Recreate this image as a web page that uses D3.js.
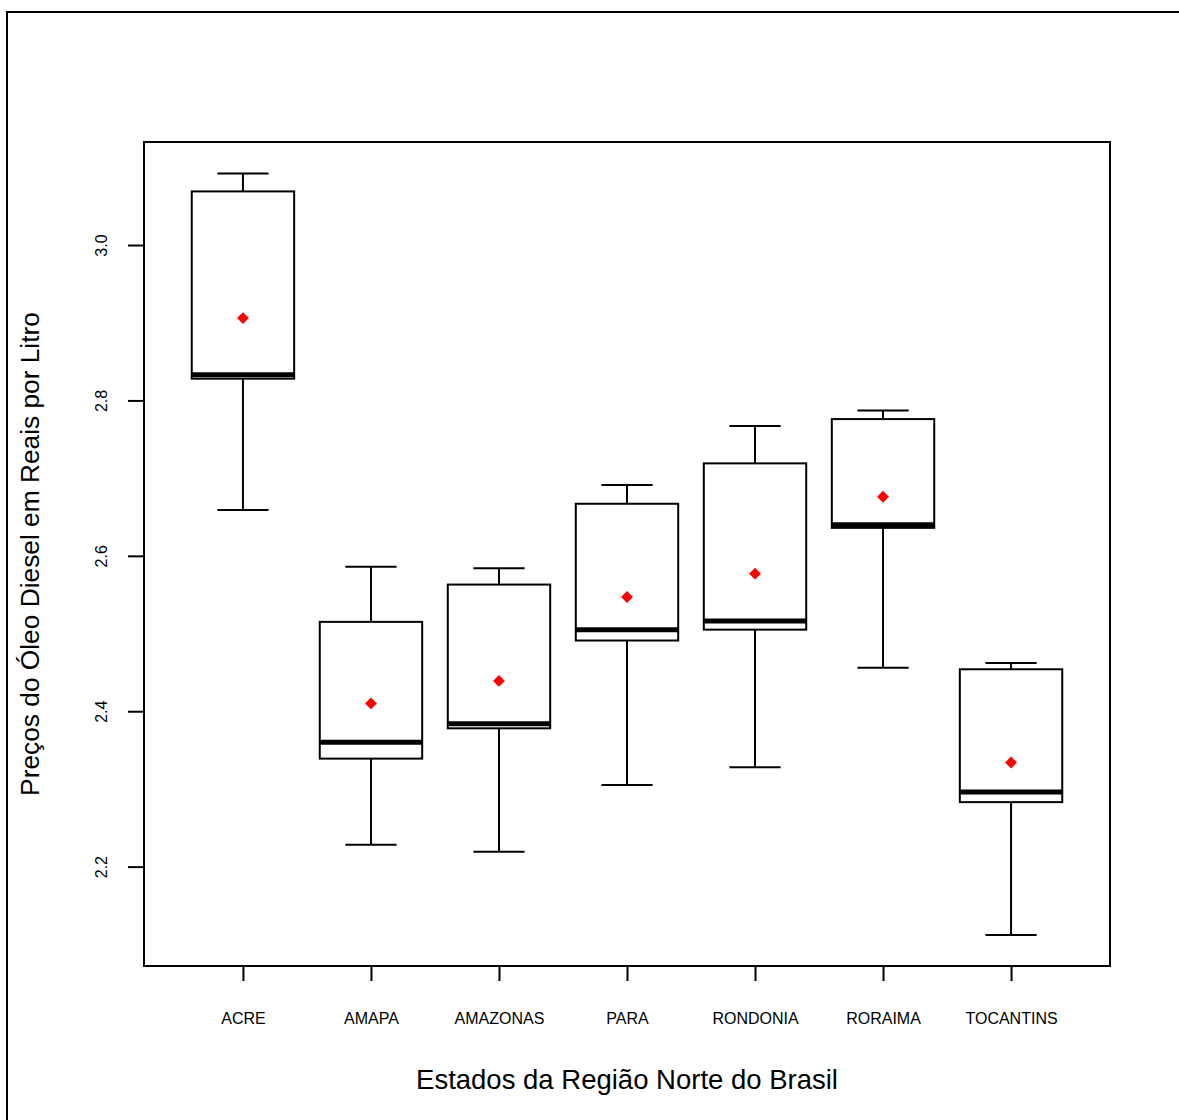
<!DOCTYPE html>
<html>
<head>
<meta charset="utf-8">
<script src="https://cdn.jsdelivr.net/npm/d3@7"></script>
<style>
  body { margin: 0; background: #fff; }
  svg { display: block; font-family: "Liberation Sans", Arial, sans-serif; }
</style>
</head>
<body>
<svg id="chart" width="1179" height="1120"></svg>
<script>
// boxplot stats
const states    = [ "ACRE", "AMAPA", "AMAZONAS", "PARA", "RONDONIA", "RORAIMA", "TOCANTINS" ];
const whiskLow  = [ 2.659, 2.228, 2.219, 2.305, 2.328, 2.456, 2.112 ];
const q1        = [ 2.828, 2.339, 2.378, 2.491, 2.505, 2.636, 2.283 ];
const medians   = [ 2.833, 2.360, 2.384, 2.505, 2.516, 2.640, 2.296 ];
const q3        = [ 3.069, 2.515, 2.563, 2.667, 2.719, 2.776, 2.454 ];
const whiskHigh = [ 3.092, 2.586, 2.584, 2.691, 2.767, 2.787, 2.462 ];
const means     = [ 2.906, 2.410, 2.439, 2.547, 2.577, 2.676, 2.334 ];
const yTicks    = [ 2.2, 2.4, 2.6, 2.8, 3.0 ];

const rows = states.map( function ( s, i ) {
    return { state: s, lo: whiskLow[i], q1: q1[i], med: medians[i], q3: q3[i], hi: whiskHigh[i], mean: means[i] };
} );

const plot = { left: 144, right: 1110, top: 142, bottom: 966 };

let svg = d3.select( "#chart" );

// outer figure border (runs off the right/bottom edge)
svg.append( "rect" ).attr( "x", 7 ).attr( "y", 12 ).attr( "width", 1250 ).attr( "height", 1250 )
    .attr( "fill", "none" ).attr( "stroke", "#000" ).attr( "stroke-width", 2 );

let x = d3.scalePoint().domain( states ).range( [ plot.left, plot.right ] ).padding( 0.773 );
let y = d3.scaleLinear().domain( [ 2.0721, 3.1326 ] ).range( [ plot.bottom, plot.top ] );
let step = x.step();
let boxW = step * 0.8, capW = step * 0.4;

// y axis
let yAxis = svg.append( "g" ).attr( "transform", "translate(" + plot.left + ",0)" )
    .call( d3.axisLeft( y ).tickValues( yTicks ).tickFormat( d3.format( ".1f" ) ).tickSize( 16 ).tickSizeOuter( 0 ) );
yAxis.select( ".domain" ).remove();
yAxis.selectAll( "line" ).attr( "stroke-width", 2 );
yAxis.selectAll( "text" ).attr( "transform", "rotate(-90)" ).attr( "x", 0 ).attr( "y", -37 ).attr( "dy", 0 )
    .attr( "text-anchor", "middle" ).attr( "font-size", 16 ).attr( "font-family", null ).attr( "fill", "#000" );

// x axis
let xAxis = svg.append( "g" ).attr( "transform", "translate(0," + plot.bottom + ")" )
    .call( d3.axisBottom( x ).tickSize( 15 ).tickSizeOuter( 0 ) );
xAxis.select( ".domain" ).remove();
xAxis.selectAll( "line" ).attr( "stroke-width", 2 );
xAxis.selectAll( "text" ).attr( "y", 58 ).attr( "dy", 0 ).attr( "font-size", 16 ).attr( "font-family", null ).attr( "fill", "#000" );

// boxes
let box = svg.selectAll( ".box" ).data( rows ).enter().append( "g" ).attr( "class", "box" );

box.append( "line" ).attr( "x1", d => x( d.state ) ).attr( "x2", d => x( d.state ) )
    .attr( "y1", d => y( d.hi ) ).attr( "y2", d => y( d.q3 ) ).attr( "stroke", "#000" ).attr( "stroke-width", 2 );
box.append( "line" ).attr( "x1", d => x( d.state ) ).attr( "x2", d => x( d.state ) )
    .attr( "y1", d => y( d.q1 ) ).attr( "y2", d => y( d.lo ) ).attr( "stroke", "#000" ).attr( "stroke-width", 2 );
box.append( "line" ).attr( "x1", d => x( d.state ) - capW / 2 ).attr( "x2", d => x( d.state ) + capW / 2 )
    .attr( "y1", d => y( d.hi ) ).attr( "y2", d => y( d.hi ) ).attr( "stroke", "#000" ).attr( "stroke-width", 2 );
box.append( "line" ).attr( "x1", d => x( d.state ) - capW / 2 ).attr( "x2", d => x( d.state ) + capW / 2 )
    .attr( "y1", d => y( d.lo ) ).attr( "y2", d => y( d.lo ) ).attr( "stroke", "#000" ).attr( "stroke-width", 2 );

box.append( "rect" ).attr( "x", d => x( d.state ) - boxW / 2 ).attr( "width", boxW )
    .attr( "y", d => y( d.q3 ) ).attr( "height", d => y( d.q1 ) - y( d.q3 ) )
    .attr( "fill", "#fff" ).attr( "stroke", "#000" ).attr( "stroke-width", 2 );

box.append( "line" ).attr( "x1", d => x( d.state ) - boxW / 2 ).attr( "x2", d => x( d.state ) + boxW / 2 )
    .attr( "y1", d => y( d.med ) ).attr( "y2", d => y( d.med ) ).attr( "stroke", "#000" ).attr( "stroke-width", 5 );

box.append( "path" ).attr( "d", d3.symbol().type( d3.symbolSquare ).size( 70 ) )
    .attr( "transform", d => "translate(" + x( d.state ) + "," + y( d.mean ) + ") rotate(45)" )
    .attr( "fill", "#ff0000" );

// plot frame
svg.append( "rect" ).attr( "x", plot.left ).attr( "y", plot.top )
    .attr( "width", plot.right - plot.left ).attr( "height", plot.bottom - plot.top )
    .attr( "fill", "none" ).attr( "stroke", "#000" ).attr( "stroke-width", 2 );

// axis titles
svg.append( "text" ).attr( "x", ( plot.left + plot.right ) / 2 ).attr( "y", 1089 )
    .attr( "text-anchor", "middle" ).attr( "font-size", 27.5 ).text( "Estados da Região Norte do Brasil" );
svg.append( "text" ).attr( "transform", "translate(39," + ( plot.top + plot.bottom ) / 2 + ") rotate(-90)" )
    .attr( "text-anchor", "middle" ).attr( "font-size", 26.3 ).text( "Preços do Óleo Diesel em Reais por Litro" );
</script>
</body>
</html>
